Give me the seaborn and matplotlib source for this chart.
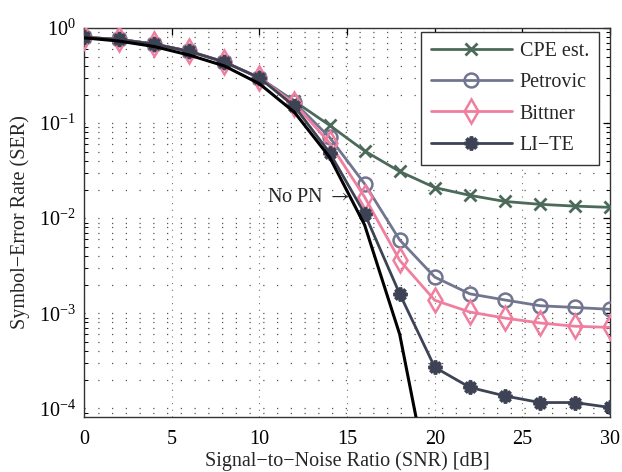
import numpy as np
import pandas as pd
import matplotlib
matplotlib.use("Agg")
import matplotlib.pyplot as plt
import seaborn as sns
from matplotlib.ticker import LogLocator, FixedLocator, NullFormatter

# SNR grid [dB]
snr = [0, 2, 4, 6, 8, 10, 12, 14, 16, 18, 20, 22, 24, 26, 28, 30]
snr_nopn = [0, 2, 4, 6, 8, 10, 12, 14, 16, 18, 20]

# Symbol-error rates
ser_cpe = [0.80, 0.76, 0.68, 0.57, 0.44, 0.30, 0.17, 0.095, 0.051, 0.031,
           0.021, 0.0174, 0.015, 0.014, 0.0134, 0.013]
ser_petrovic = [0.80, 0.76, 0.68, 0.57, 0.44, 0.30, 0.165, 0.071, 0.023, 0.0059,
                0.0024, 0.0016, 0.00138, 0.0012, 0.00115, 0.0011]
ser_bittner = [0.80, 0.76, 0.68, 0.57, 0.44, 0.30, 0.16, 0.062, 0.0167, 0.0036,
               0.00137, 0.00103, 0.00089, 0.00079, 0.00073, 0.00071]
ser_lite = [0.80, 0.76, 0.68, 0.57, 0.44, 0.30, 0.15, 0.049, 0.0112, 0.0016,
            0.00027, 0.000166, 0.000135, 0.000115, 0.000115, 0.000102]
ser_nopn = [0.79, 0.73, 0.64, 0.52, 0.40, 0.26, 0.13, 0.044, 0.0085, 0.0006, 0.000008]

series_names = ["CPE est.", "Petrovic", "Bittner", "LI\u2212TE"]
series_values = [ser_cpe, ser_petrovic, ser_bittner, ser_lite]

sns.set_theme(style="white")
plt.rcParams["font.family"] = ["Liberation Serif", "DejaVu Serif"]
plt.rcParams["mathtext.fontset"] = "stix"

FS = 14.5

fig = plt.figure(figsize=(6.22, 4.72), dpi=100)
ax = fig.add_axes([0.135, 0.1165, 0.846, 0.824])

styles = {
    "CPE est.": dict(color="#4c6a5a", marker="x", ms=8, mew=2.0, mfc="none"),
    "Petrovic": dict(color="#717590", marker="o", ms=10, mew=1.8, mfc="none"),
    "Bittner": dict(color="#f07e9e", marker="d", ms=12, mew=1.8, mfc="none"),
    "LI\u2212TE": dict(color="#3e4255", marker=(8, 2, 0), ms=10, mew=2.6),
}

for name, vals in zip(series_names, series_values):
    df = pd.DataFrame({"snr": snr, "ser": vals})
    st = styles[name]
    sns.lineplot(data=df, x="snr", y="ser", ax=ax, color=st["color"],
                 marker=st["marker"], markersize=st["ms"], markeredgewidth=st["mew"],
                 markerfacecolor=st.get("mfc", st["color"]),
                 markeredgecolor=st["color"], linewidth=2.0, label=name,
                 zorder=3)

df_nopn = pd.DataFrame({"snr": snr_nopn, "ser": ser_nopn})
sns.lineplot(data=df_nopn, x="snr", y="ser", ax=ax, color="black",
             linewidth=2.2, zorder=4, legend=False)

ax.set_yscale("log")
ax.set_xlim(0, 30)
ax.set_ylim(8.1e-5, 1.0)

ax.xaxis.set_major_locator(FixedLocator([0, 5, 10, 15, 20, 25, 30]))
ax.yaxis.set_major_locator(LogLocator(base=10, numticks=10))
ax.yaxis.set_minor_locator(LogLocator(base=10, subs=np.arange(2, 10), numticks=10))
ax.yaxis.set_minor_formatter(NullFormatter())

# dotted grid: horizontal at all decades and sub-decades, vertical at major x ticks
ax.grid(True, which="major", axis="y", color="#555555", linestyle=(0, (1, 10)), linewidth=0.9)
ax.grid(True, which="minor", axis="y", color="#555555", linestyle=(0, (1, 10)), linewidth=0.9)
ax.grid(True, which="major", axis="x", color="#777777", linestyle=(0, (1, 5)), linewidth=0.8)

ax.tick_params(which="both", direction="in", top=True, right=True,
               labelsize=FS, colors="black")
ax.tick_params(axis="x", pad=9)
ax.tick_params(axis="y", pad=6)
ax.tick_params(which="major", length=5, width=0.9)
ax.tick_params(which="minor", length=3, width=0.7, left=True, right=True)

for sp in ax.spines.values():
    sp.set_color("#333333")
    sp.set_linewidth(1.0)

ax.set_xlabel("Signal\u2212to\u2212Noise Ratio (SNR) [dB]", fontsize=FS, labelpad=2)
ax.set_ylabel("Symbol\u2212Error Rate (SER)", fontsize=FS, labelpad=6)

ax.text(10.45, 0.0165, "No PN $\\rightarrow$", fontsize=FS, ha="left", va="center", zorder=5)

leg = ax.legend(loc="upper right", fontsize=FS, frameon=True, fancybox=False,
                edgecolor="#333333", framealpha=1.0, handlelength=4.0,
                borderpad=0.5, labelspacing=0.6, handletextpad=0.4,
                borderaxespad=0.0, bbox_to_anchor=(0.979, 0.990))
leg.get_frame().set_linewidth(1.0)

fig.savefig("out.png", dpi=100)
